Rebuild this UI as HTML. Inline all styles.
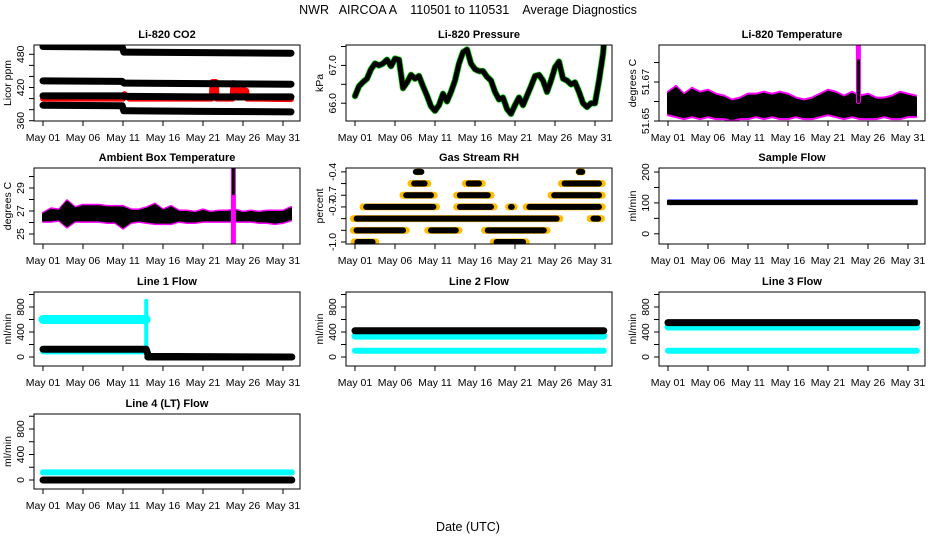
<!DOCTYPE html>
<html><head><meta charset="utf-8"><style>
html,body{margin:0;padding:0;background:#fff}
svg{display:block;font-family:"Liberation Sans",sans-serif}
.pre{white-space:pre}
</style></head><body>
<svg id="c" width="936" height="540" viewBox="0 0 936 540">
<text class="pre" x="468" y="14" font-size="12.5" text-anchor="middle" xml:space="preserve">NWR   AIRCOA A    110501 to 110531    Average Diagnostics</text>
<text x="468" y="531" font-size="12.5" text-anchor="middle">Date (UTC)</text>
</svg>
<script>
// ---------- data ----------
const xTickLabels = ["May 01","May 06","May 11","May 16","May 21","May 26","May 31"];
const xTickDays = [0,5,10,15,20,25,30];

const co2Days = [0,9.9,10.1,20,31];
const co2S1 = [494,493,484,483,482];
const co2S2 = [432,431,428,427,426];
const co2S3 = [405,405,404,403,403];
const co2S4 = [388,387,378,377,376];
const co2RedDays = [0,10,10.2,10.5,10.8,12,21.1,21.2,21.6,21.7,23.7,23.8,24.3,24.4,24.9,25,25.4,25.5,31];
const co2Red = [400,400,408,404,400,400,400,430,430,400,400,428,426,402,402,416,414,400,399];

const presDays = [0,.5,1,1.5,2,2.5,3,3.5,4,4.5,5,5.5,6,6.5,7,7.5,8,8.5,9,9.5,10,10.5,11,11.5,12,12.5,13,13.5,14,14.5,15,15.5,16,16.5,17,17.5,18,18.5,19,19.5,20,20.5,21,21.5,22,22.5,23,23.5,24,24.5,25,25.5,26,26.5,27,27.5,28,28.5,29,29.5,30,30.5,31,31.1];
const presVals = [66.19,66.45,66.56,66.65,66.9,67.05,67.0,67.05,67.15,66.98,67.18,67.15,66.4,66.55,66.75,66.65,66.72,66.45,66.2,65.92,65.8,65.95,66.25,66.05,66.3,66.6,67.05,67.35,67.42,67.05,66.9,66.85,66.85,66.7,66.6,66.3,66.1,66.15,65.85,65.72,65.95,66.15,65.95,66.2,66.45,66.72,66.75,66.6,66.3,66.6,66.95,67.1,66.65,66.6,66.5,66.55,66.3,66.0,65.9,66.0,66.0,66.6,67.3,67.55];

const dayIdx = [0,1,2,3,4,5,6,7,8,9,10,11,12,13,14,15,16,17,18,19,20,21,22,23,24,25,26,27,28,29,30,31];
const tempHi = [51.664,51.667,51.663,51.666,51.664,51.665,51.663,51.662,51.660,51.661,51.663,51.663,51.664,51.663,51.664,51.663,51.661,51.660,51.661,51.663,51.665,51.664,51.662,51.664,51.662,51.663,51.661,51.661,51.662,51.664,51.663,51.662];
const tempLo = [51.654,51.653,51.652,51.653,51.652,51.653,51.652,51.652,51.651,51.652,51.652,51.653,51.652,51.653,51.652,51.652,51.653,51.652,51.652,51.653,51.654,51.653,51.652,51.653,51.652,51.652,51.652,51.653,51.652,51.652,51.653,51.653];
const tempSpikeDay = [23.8];
const tempSpikeMag = [51.689];
const tempSpikeBlk = [51.681];

const ambHi = [26.8,27.2,27.1,27.9,27.3,27.5,27.5,27.5,27.4,27.4,27.4,27.1,27.1,27.3,27.6,27.1,27.4,27.0,27.0,26.9,27.1,26.9,27.0,27.0,27.1,26.9,27.0,26.9,27.0,27.0,27.0,27.3];
const ambLo = [26.1,26.1,26.2,25.6,26.1,26.1,26.1,26.1,26.0,26.0,25.5,26.0,26.1,26.0,25.9,25.9,25.9,26.1,26.0,26.0,26.1,26.1,26.1,26.1,26.1,26.1,26.1,26.0,26.0,25.9,26.0,26.2];
const ambSpikeDay = [23.8];
const ambSpikeTop = [30.7];
const ambSpikeBot = [24.2];

const rhLevel = [-0.8,-0.8,-0.9,-0.9,-0.9,-0.7,-0.7,-0.7,-0.7,-0.6,-0.6,-0.6,-0.5,-0.5,-0.5,-1.0,-1.0,-0.4,-0.4];
const rhStart = [-0.2,29.4,-0.2,9.1,16.2,1.0,12.7,19.2,21.4,6.0,12.7,24.5,7.0,13.8,25.8,-0.1,17.3,7.9,28.0];
const rhEnd   = [25.6,30.8,6.4,13.0,24.0,10.2,17.4,19.9,30.9,9.9,17.0,30.9,9.1,15.9,30.9,2.6,21.4,8.0,28.4];

const sflowLo = [96];
const sflowHi = [106];
const l1Day = [0,12.9,13.2,31];
const l1Cyan = [600,600,20,0];
const l1Black = [125,125,10,0];
const l2Black = [420];
const l2CyanA = [335];
const l2CyanB = [100];
const l3Black = [550];
const l3CyanA = [480];
const l3CyanB = [100];
const l4Cyan = [120];
const l4Black = [0];

// ---------- layout ----------
const NS = "http://www.w3.org/2000/svg";
const svg = document.getElementById("c");
const X0 = [43,355,668], BL = [34,346,659], BR = [300,612,925];
const RT = [45,168,292,414], RB = [121,244,366,489];
function el(tag, attrs, parent){
  const e = document.createElementNS(NS, tag);
  for (const k in attrs) e.setAttribute(k, attrs[k]);
  (parent||svg).appendChild(e);
  return e;
}
function makePanel(name, col, row, ymin, ymax, ticks, labelIdx, labelTxt, title, ylab){
  const g = el("g", {});
  
  
  const P = {g, xs: d => X0[col] + d*8, ys: v => RB[row] - (v-ymin)/(ymax-ymin)*(RB[row]-RT[row]),
    L: BL[col], R: BR[col], T: RT[row], B: RB[row]};
  const clip = el("clipPath", {id: "clip"+col+row}, g);
  el("rect", {x:P.L, y:P.T, width:P.R-P.L, height:P.B-P.T}, clip);
  P.data = el("g", {"clip-path": "url(#clip"+col+row+")"}, g);
  
  
  const box = el("rect", {x:P.L, y:P.T, width:P.R-P.L, height:P.B-P.T, fill:"none", stroke:"#000", "stroke-width":1}, g);
  
  
  const t = el("text", {x:(P.L+P.R)/2, y:P.T-7, "font-size":11, "font-weight":"bold", "text-anchor":"middle"}, g);
  t.textContent = title;
  
  
  const yl = el("text", {transform:"translate("+(P.L-23)+","+((P.T+P.B)/2)+") rotate(-90)", "font-size":10.5, "text-anchor":"middle"}, g);
  yl.textContent = ylab;
  
  
  ticks.forEach(v => {
    const y = P.ys(v);
    el("line", {x1:P.L-5, x2:P.L, y1:y, y2:y, stroke:"#000"}, g);
  });
  labelIdx.forEach((i, k) => {
    const y = P.ys(ticks[i]);
    const tl = el("text", {transform:"translate("+(P.L-10)+","+y+") rotate(-90)", "font-size":10.5, "text-anchor":"middle"}, g);
    tl.textContent = labelTxt[k];
    
    
  });
  xTickDays.forEach((d, i) => {
    const x = P.xs(d);
    el("line", {x1:x, x2:x, y1:P.B, y2:P.B+5, stroke:"#000"}, g);
    const tl = el("text", {x:x, y:P.B+20, "font-size":10.5, "text-anchor":"middle"}, g);
    tl.textContent = xTickLabels[i];
    
    
  });
  return P;
}
function line(P, days, vals, color, w){
  const pts = days.map((d,i)=>P.xs(d)+","+P.ys(vals[i])).join(" ");
  el("polyline", {points:pts, fill:"none", stroke:color, "stroke-width":w, "stroke-linejoin":"round", "stroke-linecap":"round"}, P.data);
}
function band(P, days, lo, hi, color, pad){
  const up = days.map((d,i)=>P.xs(d)+","+(P.ys(hi[i])-pad));
  const dn = days.map((d,i)=>P.xs(d)+","+(P.ys(lo[i])+pad)).reverse();
  el("polygon", {points:up.concat(dn).join(" "), fill:color, stroke:color, "stroke-width":2, "stroke-linejoin":"round"}, P.data);
}
function flat(P, v, color, w, d0, d1){
  line(P, [d0===undefined?0:d0, d1===undefined?31.1:d1], [v, v], color, w);
}

// Li-820 CO2
let P = makePanel("co2", 0, 0, 359.5, 496.8, [360,380,400,420,440,460,480], [0,3,6], ["360","420","480"], "Li-820 CO2", "Licor ppm");
line(P, co2RedDays, co2Red, "#f00", 6);
[co2S1, co2S2, co2S3, co2S4].forEach(s => line(P, co2Days, s, "#000", 7));

// Pressure
P = makePanel("pressure", 1, 0, 65.53, 67.54, [66.0,66.5,67.0,67.5], [0,2], ["66.0","67.0"], "Li-820 Pressure", "kPa");
line(P, presDays, presVals, "#1c1", 6.5);
line(P, presDays, presVals, "#000", 5);

// Temperature
P = makePanel("temperature", 2, 0, 51.65, 51.689, [51.65,51.66,51.67,51.68], [0,2], ["51.65","51.67"], "Li-820 Temperature", "degrees C");
band(P, dayIdx, tempLo, tempHi, "#f0f", 2);
band(P, dayIdx, tempLo, tempHi, "#000", 0);
line(P, [tempSpikeDay[0], tempSpikeDay[0]], [51.66, tempSpikeMag[0]], "#f0f", 5);
line(P, [tempSpikeDay[0], tempSpikeDay[0]], [51.66, tempSpikeBlk[0]], "#000", 3);

// Ambient
P = makePanel("ambient-temp", 0, 1, 24.13, 30.74, [25,26,27,28,29,30], [0,2,4], ["25","27","29"], "Ambient Box Temperature", "degrees C");
band(P, dayIdx, ambLo, ambHi, "#f0f", 0.5);
band(P, dayIdx, ambLo, ambHi, "#000", -1);
line(P, [ambSpikeDay[0], ambSpikeDay[0]], [ambSpikeBot[0], ambSpikeTop[0]], "#f0f", 5);
line(P, [ambSpikeDay[0], ambSpikeDay[0]], [28.5, ambSpikeTop[0]], "#000", 3);

// Gas Stream RH
P = makePanel("gas-rh", 1, 1, -1.017, -0.367, [-0.4,-0.5,-0.6,-0.7,-0.8,-0.9,-1.0], [0,2,3,6], ["-0.4","-0.7","-0.7","-1.0"], "Gas Stream RH", "percent");
rhLevel.forEach((lv,i) => line(P, [rhStart[i], rhEnd[i]], [lv, lv], "#fb0", 7));
rhLevel.forEach((lv,i) => line(P, [rhStart[i]+0.4, rhEnd[i]-0.4], [lv, lv], "#000", 6));

// Sample Flow
P = makePanel("sample-flow", 2, 1, -33, 213, [0,50,100,150,200], [0,2,4], ["0","100","200"], "Sample Flow", "ml/min");
flat(P, sflowHi[0]+2, "#00f", 2);
band(P, [0,31.1], [sflowLo[0],sflowLo[0]], [sflowHi[0],sflowHi[0]], "#000", 0);

// Line 1
P = makePanel("line1-flow", 0, 2, -144, 1040, [0,200,400,600,800,1000], [0,2,4], ["0","400","800"], "Line 1 Flow", "ml/min");
line(P, [0,12.9], [l1Cyan[0], l1Cyan[1]], "#0ff", 9);
line(P, [0,12.9], [90, 90], "#0ff", 6);
line(P, [12.9,12.9], [40, 900], "#0ff", 4);
line(P, l1Day, l1Black, "#000", 7);
line(P, [13.1,31.1], [0, 0], "#000", 7);

// Line 2
P = makePanel("line2-flow", 1, 2, -144, 1040, [0,200,400,600,800,1000], [0,2,4], ["0","400","800"], "Line 2 Flow", "ml/min");
flat(P, l2CyanB[0], "#0ff", 6);
flat(P, l2CyanA[0], "#0ff", 7);
flat(P, l2Black[0], "#000", 7);

// Line 3
P = makePanel("line3-flow", 2, 2, -144, 1040, [0,200,400,600,800,1000], [0,2,4], ["0","400","800"], "Line 3 Flow", "ml/min");
flat(P, l3CyanB[0], "#0ff", 6);
flat(P, l3CyanA[0], "#0ff", 7);
flat(P, l3Black[0], "#000", 7);

// Line 4
P = makePanel("line4-flow", 0, 3, -141, 1035, [0,200,400,600,800,1000], [0,2,4], ["0","400","800"], "Line 4 (LT) Flow", "ml/min");
flat(P, l4Cyan[0], "#0ff", 6);
flat(P, l4Black[0], "#000", 7);
</script>
</body></html>
